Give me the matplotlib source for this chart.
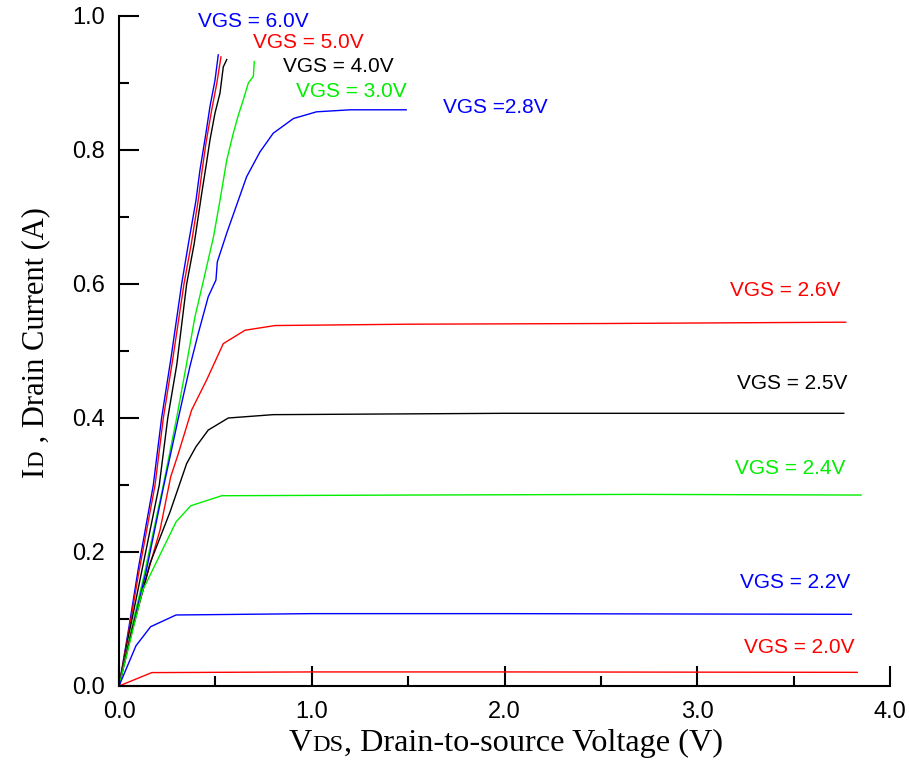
import matplotlib
matplotlib.use("Agg")
import matplotlib.pyplot as plt
from matplotlib.ticker import MultipleLocator, FormatStrFormatter

# ---------------- data ----------------
vgs_labels = ["VGS = 6.0V", "VGS = 5.0V", "VGS = 4.0V", "VGS = 3.0V", "VGS =2.8V",
              "VGS = 2.6V", "VGS = 2.5V", "VGS = 2.4V", "VGS = 2.2V", "VGS = 2.0V"]

vds_60 = [0, 0.05, 0.10, 0.178, 0.221, 0.27, 0.325, 0.36, 0.3995, 0.42, 0.451, 0.472, 0.498, 0.515]
id_60 = [0, 0.085, 0.175, 0.30, 0.40, 0.49, 0.60, 0.66, 0.725, 0.77, 0.825, 0.865, 0.904, 0.942]

vds_50 = [0, 0.05, 0.10, 0.187, 0.23, 0.28, 0.337, 0.375, 0.411, 0.429, 0.451, 0.481, 0.507, 0.529]
id_50 = [0, 0.08, 0.165, 0.30, 0.40, 0.49, 0.60, 0.66, 0.725, 0.765, 0.81, 0.86, 0.899, 0.939]

vds_40 = [0, 0.05, 0.11, 0.209, 0.253, 0.30, 0.351, 0.39, 0.429, 0.451, 0.472, 0.498, 0.524, 0.541, 0.559]
id_40 = [0, 0.075, 0.16, 0.30, 0.40, 0.48, 0.60, 0.66, 0.735, 0.775, 0.815, 0.855, 0.885, 0.924, 0.935]

vds_30 = [0, 0.06, 0.13, 0.23, 0.299, 0.348, 0.394, 0.434, 0.49, 0.524, 0.559, 0.593, 0.619,
          0.645, 0.671, 0.697, 0.702]
id_30 = [0, 0.08, 0.165, 0.30, 0.40, 0.477, 0.551, 0.60, 0.67, 0.725, 0.785, 0.825, 0.852,
         0.875, 0.90, 0.91, 0.932]

vds_28 = [0, 0.06, 0.14, 0.233, 0.308, 0.368, 0.411, 0.463, 0.503, 0.51, 0.559, 0.619, 0.662,
          0.731, 0.80, 0.905, 1.025, 1.2, 1.49]
id_28 = [0, 0.075, 0.17, 0.30, 0.40, 0.477, 0.526, 0.581, 0.606, 0.633, 0.676, 0.725, 0.76,
         0.797, 0.825, 0.847, 0.857, 0.86, 0.86]

vds_26 = [0, 0.06, 0.15, 0.213, 0.268, 0.308, 0.377, 0.455, 0.541, 0.654, 0.81, 1.5, 2.5, 3.77]
id_26 = [0, 0.075, 0.17, 0.233, 0.312, 0.347, 0.412, 0.457, 0.511, 0.531, 0.538, 0.540, 0.541, 0.543]

vds_25 = [0, 0.07, 0.161, 0.265, 0.351, 0.399, 0.463, 0.567, 0.8, 2.0, 3.76]
id_25 = [0, 0.085, 0.183, 0.26, 0.332, 0.357, 0.382, 0.40, 0.405, 0.407, 0.407]

vds_24 = [0, 0.123, 0.296, 0.372, 0.533, 1.5, 2.7, 3.85]
id_24 = [0, 0.143, 0.245, 0.269, 0.284, 0.285, 0.286, 0.285]

vds_22 = [0, 0.088, 0.164, 0.296, 1.0, 2.0, 3.8]
id_22 = [0, 0.06, 0.0885, 0.106, 0.108, 0.108, 0.107]

vds_20 = [0, 0.17, 1.0, 2.0, 3.83]
id_20 = [0, 0.02, 0.021, 0.021, 0.0204]

x_ticks = [0.0, 1.0, 2.0, 3.0, 4.0]
y_ticks = [0.0, 0.2, 0.4, 0.6, 0.8, 1.0]

# ---------------- styling ----------------
BLUE, RED, BLACK, GREEN = "#0000ff", "#ff0000", "#000000", "#00ee00"
series = [
    (vds_60, id_60, BLUE), (vds_50, id_50, RED), (vds_40, id_40, BLACK),
    (vds_30, id_30, GREEN), (vds_28, id_28, BLUE), (vds_26, id_26, RED),
    (vds_25, id_25, BLACK), (vds_24, id_24, GREEN), (vds_22, id_22, BLUE),
    (vds_20, id_20, RED),
]
label_colors = [BLUE, RED, BLACK, GREEN, BLUE, RED, BLACK, GREEN, BLUE, RED]
label_pos = [(0.41, 0.9925), (0.695, 0.96), (0.851, 0.925), (0.918, 0.887), (1.681, 0.863),
             (3.17, 0.59), (3.206, 0.452), (3.196, 0.325), (3.222, 0.154), (3.243, 0.057)]

SANS = ["Liberation Sans", "DejaVu Sans"]
SERIF = ["Liberation Serif", "DejaVu Serif"]

W, H = 909, 767
fig = plt.figure(figsize=(W / 100, H / 100), dpi=100)
ax = fig.add_axes([119 / W, 1 - 686 / H, (890 - 119) / W, (686 - 16) / H])

for vx, vy, c in series:
    ax.plot(vx, vy, color=c, lw=1.0)

for (lx, ly), s, c in zip(label_pos, vgs_labels, label_colors):
    ax.text(lx, ly, s, color=c, fontsize=15, family=SANS, ha="left", va="center")

ax.set_xlim(0, 4.0)
ax.set_ylim(0, 1.0)
ax.set_xticks(x_ticks)
ax.set_yticks(y_ticks)
ax.xaxis.set_minor_locator(MultipleLocator(0.5))
ax.yaxis.set_minor_locator(MultipleLocator(0.1))
ax.xaxis.set_major_formatter(FormatStrFormatter("%.1f"))
ax.yaxis.set_major_formatter(FormatStrFormatter("%.1f"))

for sp in ["top", "right"]:
    ax.spines[sp].set_visible(False)
for sp in ["left", "bottom"]:
    ax.spines[sp].set_linewidth(1.5)

ax.tick_params(which="major", direction="in", length=14.4, width=1.5, labelsize=17)
ax.tick_params(which="minor", direction="in", length=7.2, width=1.5)
ax.tick_params(axis="x", which="major", pad=11)
ax.tick_params(axis="y", which="major", pad=10)
for lab in ax.get_xticklabels() + ax.get_yticklabels():
    lab.set_family(SANS)

# ---------------- axis labels with small-caps style subscripts ----------------
XBIG, XSMALL = 23.2, 17.5
xbase = 1 - 751 / H
t = fig.text(289 / W, xbase, "V", fontsize=XBIG, family=SERIF, ha="left", va="baseline")
for piece, size in [("DS", XSMALL), (", Drain-to-source Voltage (V)", XBIG)]:
    t = ax.annotate(piece, xy=(1, xbase), xycoords=(t, "figure fraction"),
                    fontsize=size, family=SERIF, ha="left", va="baseline",
                    annotation_clip=False)

YBIG, YSMALL = 22, 16.5
ybase = 43 / W
t = fig.text(ybase, 1 - 477 / H, "I", fontsize=YBIG, family=SERIF, rotation=90,
             rotation_mode="anchor", ha="left", va="baseline")
for piece, size in [("D", YSMALL), (" , Drain Current (A)", YBIG)]:
    t = ax.annotate(piece, xy=(ybase, 1), xycoords=("figure fraction", t),
                    fontsize=size, family=SERIF, rotation=90, rotation_mode="anchor",
                    ha="left", va="baseline", annotation_clip=False)

fig.savefig("out.png", dpi=100)
